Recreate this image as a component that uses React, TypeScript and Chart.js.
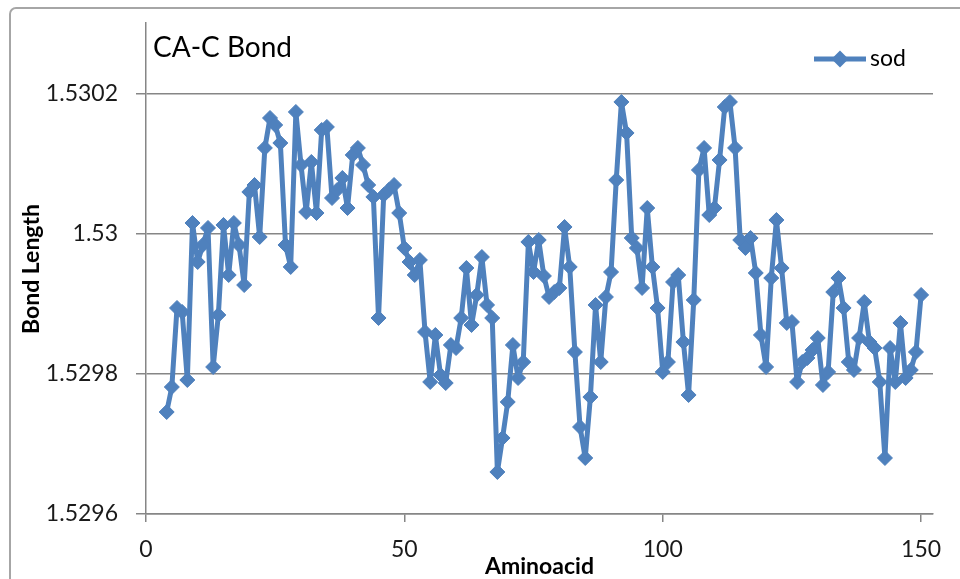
import { useEffect, useRef } from 'react';
import { Chart, registerables } from 'chart.js';

Chart.register(...registerables);

const aminoacids = [
  4, 5, 6, 7, 8, 9, 10, 11, 12, 13, 14, 15, 16, 17, 18, 19, 20, 21, 22, 23,
  24, 25, 26, 27, 28, 29, 30, 31, 32, 33, 34, 35, 36, 37, 38, 39, 40, 41, 42, 43,
  44, 45, 46, 47, 48, 49, 50, 51, 52, 53, 54, 55, 56, 57, 58, 59, 60, 61, 62, 63,
  64, 65, 66, 67, 68, 69, 70, 71, 72, 73, 74, 75, 76, 77, 78, 79, 80, 81, 82, 83,
  84, 85, 86, 87, 88, 89, 90, 91, 92, 93, 94, 95, 96, 97, 98, 99, 100, 101, 102, 103,
  104, 105, 106, 107, 108, 109, 110, 111, 112, 113, 114, 115, 116, 117, 118, 119, 120, 121, 122, 123,
  124, 125, 126, 127, 128, 129, 130, 131, 132, 133, 134, 135, 136, 137, 138, 139, 140, 141, 142, 143,
  144, 145, 146, 147, 148, 149, 150,
];

const sodBondLength = [
  1.5297457, 1.5297814, 1.5298943, 1.5298886, 1.5297914, 1.5300157, 1.52996, 1.5299843, 1.5300086, 1.52981,
  1.5298843, 1.5300129, 1.5299414, 1.5300157, 1.5299843, 1.5299271, 1.53006, 1.53007, 1.5299957, 1.5301229,
  1.5301657, 1.5301557, 1.53013, 1.5299843, 1.5299529, 1.5301743, 1.5300986, 1.5300314, 1.5301029, 1.53003,
  1.5301486, 1.5301529, 1.5300514, 1.5300629, 1.53008, 1.5300371, 1.5301129, 1.5301229, 1.5300986, 1.53007,
  1.5300529, 1.52988, 1.5300557, 1.5300629, 1.53007, 1.53003, 1.52998, 1.52996, 1.5299414, 1.5299629,
  1.52986, 1.5297886, 1.5298557, 1.5297986, 1.5297871, 1.5298414, 1.5298371, 1.52988, 1.5299514, 1.52987,
  1.5299129, 1.5299671, 1.5298986, 1.52988, 1.52966, 1.5297086, 1.52976, 1.5298414, 1.5297943, 1.5298171,
  1.5299886, 1.5299457, 1.5299914, 1.52994, 1.52991, 1.5299171, 1.5299229, 1.53001, 1.5299529, 1.5298314,
  1.5297243, 1.52968, 1.5297671, 1.5298986, 1.5298171, 1.52991, 1.5299457, 1.5300771, 1.5301886, 1.5301443,
  1.5299943, 1.52998, 1.5299229, 1.5300371, 1.5299529, 1.5298943, 1.5298029, 1.5298171, 1.5299314, 1.5299414,
  1.5298457, 1.52977, 1.5299057, 1.5300914, 1.5301229, 1.5300271, 1.5300371, 1.5301057, 1.5301814, 1.5301886,
  1.5301229, 1.5299914, 1.52998, 1.5299943, 1.5299443, 1.5298557, 1.52981, 1.5299371, 1.53002, 1.5299514,
  1.5298729, 1.5298743, 1.5297886, 1.5298171, 1.5298229, 1.5298343, 1.5298514, 1.5297843, 1.5298029, 1.5299171,
  1.5299371, 1.5298943, 1.5298171, 1.5298057, 1.5298514, 1.5299029, 1.5298457, 1.5298371, 1.5297886, 1.52968,
  1.5298371, 1.5297886, 1.5298729, 1.5297943, 1.5298057, 1.5298314, 1.5299129,
];

const xTickValues = [0, 50, 100, 150];
const yTickValues = [1.5296, 1.5298, 1.53, 1.5302];
const yTickLabels = ['1.5296', '1.5298', '1.53', '1.5302'];

const chartTitle = 'CA-C Bond';
const seriesName = 'sod';
const xAxisTitle = 'Aminoacid';
const yAxisTitle = 'Bond Length';

const SERIES_COLOR = '#4f81bd';
const GRID_COLOR = '#868686';
const FONT_FAMILY = 'Lato, "Open Sans", sans-serif';

const decorations = {
  id: 'decorations',
  beforeDraw(chart: any) {
    const ctx = chart.ctx as CanvasRenderingContext2D;
    ctx.save();
    ctx.fillStyle = '#ffffff';
    ctx.fillRect(0, 0, chart.width, chart.height);
    ctx.strokeStyle = '#a6a6a6';
    ctx.lineWidth = 2;
    ctx.beginPath();
    ctx.moveTo(10, chart.height + 20);
    ctx.lineTo(10, 14);
    ctx.arcTo(10, 8, 16, 8, 6);
    ctx.lineTo(chart.width + 20, 8);
    ctx.stroke();
    ctx.restore();
  },
  afterDraw(chart: any) {
    const ctx = chart.ctx as CanvasRenderingContext2D;
    const area = chart.chartArea;
    ctx.save();
    ctx.fillStyle = '#000000';
    ctx.font = `28px ${FONT_FAMILY}`;
    ctx.textAlign = 'left';
    ctx.textBaseline = 'alphabetic';
    ctx.fillText(chartTitle, 153, 57);

    ctx.font = `bold 23px ${FONT_FAMILY}`;
    ctx.textAlign = 'center';
    ctx.textBaseline = 'middle';
    ctx.fillText(xAxisTitle, (area.left + area.right) / 2, 567);

    ctx.save();
    ctx.translate(32, 269);
    ctx.rotate(-Math.PI / 2);
    ctx.fillText(yAxisTitle, 0, 0);
    ctx.restore();

    // legend
    const ly = 59;
    ctx.strokeStyle = SERIES_COLOR;
    ctx.lineWidth = 5;
    ctx.beginPath();
    ctx.moveTo(814, ly);
    ctx.lineTo(866, ly);
    ctx.stroke();
    ctx.fillStyle = SERIES_COLOR;
    ctx.beginPath();
    ctx.moveTo(840, ly - 8.5);
    ctx.lineTo(848.5, ly);
    ctx.lineTo(840, ly + 8.5);
    ctx.lineTo(831.5, ly);
    ctx.closePath();
    ctx.fill();
    ctx.fillStyle = '#000000';
    ctx.font = `23px ${FONT_FAMILY}`;
    ctx.textAlign = 'left';
    ctx.textBaseline = 'middle';
    ctx.fillText(seriesName, 870, ly);
    ctx.restore();
  },
};

export default function App() {
  const canvasRef = useRef<HTMLCanvasElement | null>(null);

  useEffect(() => {
    const canvas = canvasRef.current;
    if (!canvas) return;
    const points = aminoacids.map((a, i) => ({ x: a, y: sodBondLength[i] }));
    const chart = new Chart(canvas, {
      type: 'line',
      data: {
        datasets: [
          {
            label: seriesName,
            data: points,
            borderColor: SERIES_COLOR,
            backgroundColor: SERIES_COLOR,
            borderWidth: 5,
            borderJoinStyle: 'round',
            borderCapStyle: 'round',
            tension: 0,
            pointStyle: 'rectRot',
            pointRadius: 7.5,
            pointBackgroundColor: SERIES_COLOR,
            pointBorderColor: SERIES_COLOR,
            pointBorderWidth: 1,
          },
        ],
      },
      options: {
        responsive: false,
        animation: false,
        devicePixelRatio: 1,
        layout: { autoPadding: false, padding: { top: 23, right: 27, left: 0, bottom: 0 } },
        plugins: {
          legend: { display: false },
          title: { display: false },
          tooltip: { enabled: false },
        },
        scales: {
          x: {
            type: 'linear',
            min: 0,
            max: 152.3,
            afterBuildTicks: (scale: any) => {
              scale.ticks = xTickValues.map((v) => ({ value: v }));
            },
            afterFit: (scale: any) => {
              scale.height = 65;
              scale.paddingLeft = 0;
              scale.paddingRight = 0;
            },
            grid: {
              drawOnChartArea: false,
              drawTicks: true,
              tickLength: 8,
              color: GRID_COLOR,
              lineWidth: 1.5,
            },
            border: { display: true, color: GRID_COLOR, width: 1.5 },
            ticks: {
              autoSkip: false,
              maxRotation: 0,
              padding: 14,
              color: '#1a1a1a',
              font: { family: FONT_FAMILY, size: 23 },
              callback: (v: any) => String(v),
            },
          },
          y: {
            type: 'linear',
            min: 1.5296,
            max: 1.5303014,
            afterBuildTicks: (scale: any) => {
              scale.ticks = yTickValues.map((v) => ({ value: v }));
            },
            afterFit: (scale: any) => {
              scale.width = 146;
              scale.paddingTop = 0;
              scale.paddingBottom = 0;
            },
            grid: {
              drawTicks: true,
              tickLength: 10,
              color: GRID_COLOR,
              lineWidth: 1.5,
            },
            border: { display: true, color: GRID_COLOR, width: 1.5 },
            ticks: {
              padding: 18,
              color: '#1a1a1a',
              font: { family: FONT_FAMILY, size: 23 },
              callback: (_v: any, i: number) => yTickLabels[i],
            },
          },
        },
      },
      plugins: [decorations],
    });
    return () => chart.destroy();
  }, []);

  return (
    <div style={{ position: 'fixed', left: 0, top: 0, width: 960, height: 579, background: '#fff' }}>
      <canvas ref={canvasRef} width={960} height={579} style={{ width: 960, height: 579, display: 'block' }} />
    </div>
  );
}
